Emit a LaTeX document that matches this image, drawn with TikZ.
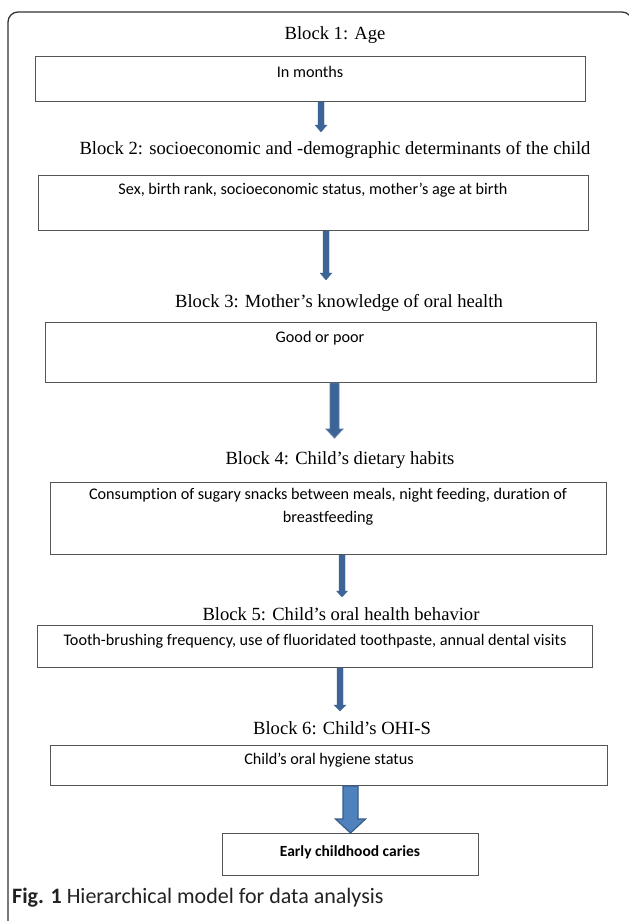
\documentclass[tikz,border=0pt]{standalone}
\usepackage{fontspec}
\setmainfont{Liberation Serif}
\newfontfamily\boxfont[Ligatures={NoCommon}]{Carlito}
\usetikzlibrary{calc}
\definecolor{arrowblue}{HTML}{3C6496}
\definecolor{arrowlight}{HTML}{4F81BD}
\definecolor{arrowedge}{HTML}{385D8A}
\definecolor{framegray}{HTML}{333333}
\definecolor{boxgray}{HTML}{555555}
\definecolor{captext}{HTML}{222222}
% start, end, half shaft, half head, head length
\newcommand\BlkArrow[6][]{%
  \filldraw[#1] ($(#2)+(-#4,0)$) -- ($(#3)+(-#4,-#6)$) -- ($(#3)+(-#5,-#6)$) -- (#3)
    -- ($(#3)+(#5,-#6)$) -- ($(#3)+(#4,-#6)$) -- ($(#2)+(#4,0)$) -- cycle;}
\tikzset{
  blockbox/.style={draw=boxgray, line width=1pt, inner sep=0pt, anchor=north west},
  blocktitle/.style={font=\fontsize{18.6}{22}\selectfont, inner sep=0pt},
  boxtext/.style={font=\boxfont\fontsize{16.2}{23}\selectfont, inner sep=0pt, align=center},
  thinarrow/.style={fill=arrowblue, draw=arrowblue, line width=0.3pt},
  thickarrow/.style={fill=arrowlight, draw=arrowedge, line width=1.2pt},
}
\begin{document}
\begin{tikzpicture}[x=1pt, y=-1pt]
\useasboundingbox (0,0) rectangle (629,921);
\fill[white] (0,0) rectangle (629,921);
\draw[framegray, line width=1.3pt, rounded corners=10pt] (8,12) rectangle (632,940);

% block 1
\node[blocktitle] (t1) at (335,35) {Block 1: Age};
\node[blockbox, minimum width=550, minimum height=45] (b1) at (35,56) {};
\node[boxtext] (x1) at (310,72) {In months};

% block 2
\node[blocktitle] (t2) at (335,150) {Block 2: socioeconomic and -demographic determinants of the child};
\node[blockbox, minimum width=550, minimum height=55] (b2) at (38,175) {};
\node[boxtext] (x2) at (313,190) {Sex, birth rank, socioeconomic status, mother’s age at birth};

% block 3
\node[blocktitle] (t3) at (339,303) {Block 3: Mother’s knowledge of oral health};
\node[blockbox, minimum width=551, minimum height=60] (b3) at (45,322) {};
\node[boxtext] (x3) at (320,338) {Good or poor};

% block 4
\node[blocktitle] (t4) at (340,460) {Block 4: Child’s dietary habits};
\node[blockbox, minimum width=556, minimum height=72] (b4) at (50,482) {};
\node[boxtext, anchor=north] (x4) at (328,488) {Consumption of sugary snacks between meals, night feeding, duration of\\breastfeeding};

% block 5
\node[blocktitle] (t5) at (341,614) {Block 5: Child’s oral health behavior};
\node[blockbox, minimum width=555, minimum height=42] (b5) at (37,625) {};
\node[boxtext] (x5) at (315,641) {Tooth-brushing frequency, use of fluoridated toothpaste, annual dental visits};

% block 6
\node[blocktitle] (t6) at (342,728) {Block 6: Child’s OHI-S};
\node[blockbox, minimum width=557, minimum height=40] (b6) at (50,745) {};
\node[boxtext] (x6) at (329,760) {Child’s oral hygiene status};

% outcome
\node[blockbox, minimum width=256, minimum height=42] (b7) at (222,833) {};
\node[boxtext, font=\boxfont\bfseries\fontsize{15.5}{18}\selectfont] (x7) at (350,852) {Early childhood caries};

% arrows
\coordinate (a1) at (321,132); \coordinate (s1) at (b1.south -| a1);
\coordinate (a2) at (326,280); \coordinate (s2) at (b2.south -| a2);
\coordinate (a3) at (334.5,438); \coordinate (s3) at (b3.south -| a3);
\coordinate (a4) at (342,597); \coordinate (s4) at (b4.south -| a4);
\coordinate (a5) at (340,711); \coordinate (s5) at (b5.south -| a5);
\coordinate (s6) at (b6.south -| 350.5,0); \coordinate (a6) at (b7.north -| 350.5,0);
\BlkArrow[thinarrow]{s1}{a1}{3}{6}{7}
\BlkArrow[thinarrow]{s2}{a2}{3}{6}{7}
\BlkArrow[thinarrow, draw=arrowedge!80!white, line width=0.8pt]{s3}{a3}{4.5}{8.5}{9}
\BlkArrow[thinarrow]{s4}{a4}{3}{5.5}{6}
\BlkArrow[thinarrow]{s5}{a5}{3}{6}{6}
\BlkArrow[thickarrow]{s6}{a6}{7.5}{15}{14}

% caption
\node[anchor=base west, inner sep=0pt, text=captext, font=\boxfont\fontsize{22}{26}\selectfont] (cap) at (12,903)
  {\textbf{Fig. 1} Hierarchical model for data analysis};
\end{tikzpicture}
\end{document}
